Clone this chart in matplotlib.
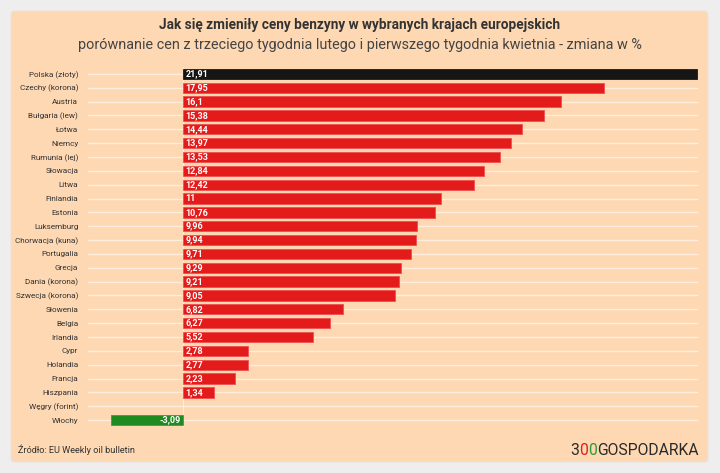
import matplotlib
matplotlib.use("Agg")
import matplotlib.pyplot as plt
from matplotlib.patches import FancyBboxPatch

# --------------------------- data ---------------------------

countries = [
    "Polska (złoty)", "Czechy (korona)", "Austria", "Bułgaria (lew)", "Łotwa",
    "Niemcy", "Rumunia (lej)", "Słowacja", "Litwa", "Finlandia", "Estonia",
    "Luksemburg", "Chorwacja (kuna)", "Portugalia", "Grecja", "Dania (korona)",
    "Szwecja (korona)", "Słowenia", "Belgia", "Irlandia", "Cypr", "Holandia",
    "Francja", "Hiszpania", "Węgry (forint)", "Włochy",
]
changes = [
    21.91, 17.95, 16.1, 15.38, 14.44, 13.97, 13.53, 12.84, 12.42, 11, 10.76,
    9.96, 9.94, 9.71, 9.29, 9.21, 9.05, 6.82, 6.27, 5.52, 2.78, 2.77, 2.23,
    1.34, 0.0, -3.09,
]

title = "Jak się zmieniły ceny benzyny w wybranych krajach europejskich"
subtitle = "porównanie cen z trzeciego tygodnia lutego i pierwszego tygodnia kwietnia - zmiana w %"
source = "Źródło: EU Weekly oil bulletin"

# --------------------------- style --------------------------

plt.rcParams["font.family"] = ["Roboto", "DejaVu Sans"]

BG_OUT = "#eeeeee"
PANEL = "#fdd8b3"
RED = "#e31b1b"
BLACK = "#151515"
GREEN = "#1f8a1f"
TXT = "#333333"


def fmt(v):
    # 21.91 -> "21,91", 16.1 -> "16,1", 11 -> "11"
    s = f"{v:.2f}".rstrip("0").rstrip(".")
    return s.replace(".", ",")


# ------------------------- figure ---------------------------

W, H = 720, 473
fig = plt.figure(figsize=(W / 100, H / 100), dpi=100, facecolor=BG_OUT)

# pixel-space overlay for the panel and free texts
bg = fig.add_axes([0, 0, 1, 1], zorder=0)
bg.set_xlim(0, W)
bg.set_ylim(H, 0)
bg.axis("off")
bg.add_patch(FancyBboxPatch((11, 11), 697, 451, boxstyle="round,pad=0,rounding_size=4",
                            facecolor=PANEL, edgecolor="#e9e3dd", lw=0.8))

ax = fig.add_axes([88 / W, 1 - 427 / H, 610 / W, 360 / H], zorder=1)
ax.set_facecolor("none")

y = list(range(len(countries)))
colors, edges = [], []
for i, v in enumerate(changes):
    if v == 0:
        colors.append("none"); edges.append("none")
    elif v < 0:
        colors.append(GREEN); edges.append("#3aa23a")
    elif i == 0:
        colors.append(BLACK); edges.append("#1a1a1a")
    else:
        colors.append(RED); edges.append("#f05050")

ax.barh(y, changes, height=0.74, color=colors, edgecolor=edges, linewidth=0.6, zorder=3)

# faint white row lines + zero line
for yi in y:
    ax.axhline(yi, color="white", lw=1.0, alpha=0.55, zorder=1)
ax.axvline(0, color="white", lw=0.8, alpha=0.5, zorder=1)

for yi, v in zip(y, changes):
    if v == 0:
        continue
    if v > 0:
        ax.text(0.1, yi, fmt(v), ha="left", va="center", color="white",
                fontsize=6.5, fontweight="bold", zorder=4)
    else:
        ax.text(-0.1, yi, fmt(v), ha="right", va="center", color="white",
                fontsize=6.5, fontweight="bold", zorder=4)

ax.set_xlim(-4.05, 21.95)
ax.set_ylim(len(countries) - 0.5, -0.5)
ax.set_yticks(y)
ax.set_yticklabels(countries, fontsize=5.9, color=TXT)
ax.tick_params(axis="y", length=0, pad=7)
ax.set_xticks([])
for s in ax.spines.values():
    s.set_visible(False)

# titles
bg.text(360, 25, title, ha="center", va="center", fontsize=9.8, fontweight="bold", color=TXT)
bg.text(360, 45, subtitle, ha="center", va="center", fontsize=10.4, color="#444444")

# source
bg.text(18, 450, source, ha="left", va="center", fontsize=6.6, color=TXT)

# logo: 3 (dark) 0 (red) 0 (green) GOSPODARKA
t = bg.text(570, 450, "3", ha="left", va="center", fontsize=11.3, color="#2a2a2a")
t = bg.annotate("0", xy=(1, 0.5), xycoords=t, ha="left", va="center",
                fontsize=11.3, color="#e0201c")
t = bg.annotate("0", xy=(1, 0.5), xycoords=t, ha="left", va="center",
                fontsize=11.3, color="#2e9a3a")
bg.annotate("GOSPODARKA", xy=(1, 0.5), xycoords=t, ha="left", va="center",
            fontsize=11.3, color="#2a2a2a")

fig.savefig("out.png", dpi=100, facecolor=BG_OUT)
